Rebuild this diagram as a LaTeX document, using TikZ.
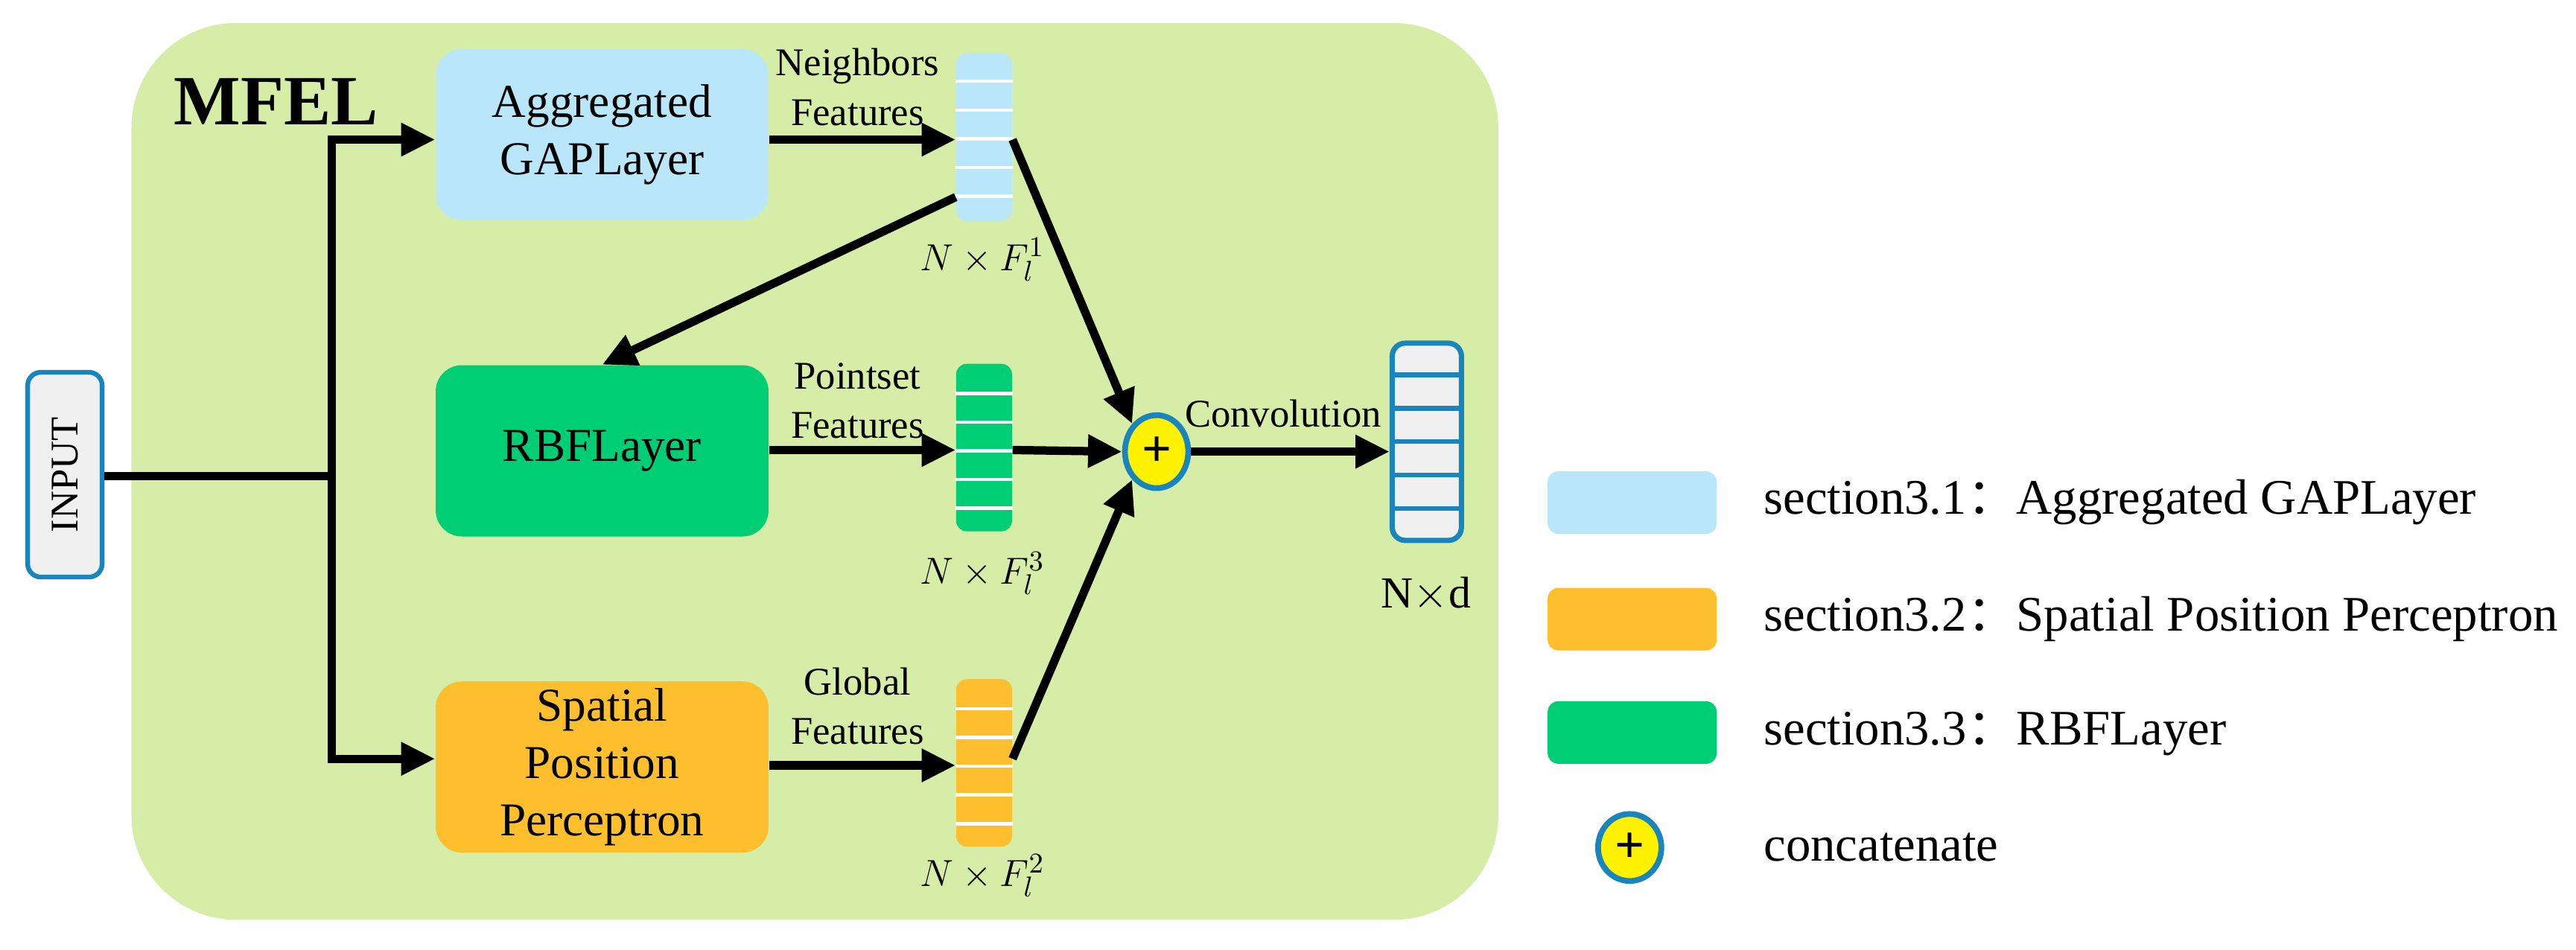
\documentclass[tikz,border=0pt]{standalone}
\usepackage{fontspec}
\setmainfont{Liberation Serif}
\newfontfamily\legsans{Liberation Sans}
\newfontfamily\cjk{Noto Sans CJK SC}
\usetikzlibrary{arrows.meta,positioning,shapes.geometric}
\definecolor{bgGreen}{HTML}{D5EDA6}
\definecolor{aggBlue}{HTML}{BAE6FA}
\definecolor{rbfGreen}{HTML}{00CE74}
\definecolor{sppOrange}{HTML}{FDBF2D}
\definecolor{edgeBlue}{HTML}{1A85BD}
\definecolor{cellGray}{HTML}{F0F0F0}
\tikzset{
  layer/.style={rounded corners=10pt, minimum width=4.47cm, minimum height=2.3cm,
    align=center, font=\fontsize{18}{22}\selectfont, inner sep=0pt},
  feat/.style={rounded corners=4pt, minimum width=0.75cm, minimum height=2.25cm, inner sep=0pt},
  flow/.style={line width=3.2pt, -{Triangle[length=13pt,width=12pt]}},
  lab/.style={font=\fontsize{15}{19}\selectfont, align=center},
  dim/.style={font=\fontsize{15}{19}\selectfont},
  legtxt/.style={anchor=west, font=\fontsize{19}{22}\selectfont},
  legbox/.style={rounded corners=4pt, minimum width=2.27cm, minimum height=0.84cm, inner sep=0pt},
  plusnode/.style={ellipse, draw=edgeBlue, line width=2.2pt, fill=yellow,
    minimum width=0.85cm, minimum height=0.98cm, inner sep=0pt, font=\bfseries\fontsize{20}{20}\selectfont}
}
\begin{document}
\begin{tikzpicture}[x=0.02206cm, y=-0.02206cm]
\useasboundingbox (0,0) rectangle (1568,578);
% background
\fill[bgGreen, rounded corners=40pt] (80,14) rectangle (912,560);
\node[font=\bfseries\fontsize{27}{27}\selectfont] (mfel) at (168,62) {MFEL};
% input
\node[draw=edgeBlue, line width=1.8pt, fill=cellGray, rounded corners=5pt,
  minimum width=1.0cm, minimum height=2.75cm, inner sep=0pt] (input) at (39.5,289) {};
\node[rotate=90, font=\fontsize{15}{15}\selectfont] at (input) {INPUT};
% layers
\node[layer, fill=aggBlue] (agg) at (366.5,82) {Aggregated\\GAPLayer};
\node[layer, fill=rbfGreen] (rbf) at (366.5,274.5) {RBFLayer};
\node[layer, fill=sppOrange] (spp) at (366.5,467) {Spatial\\Position\\Perceptron};
% feature bars
\node[feat, fill=aggBlue] (f1) at (599,83.5) {};
\node[feat, fill=rbfGreen] (f3) at (599,272.5) {};
\node[feat, fill=sppOrange] (f2) at (599,464.5) {};
\foreach \b/\t in {f1/32, f3/222, f2/414}
  \foreach \k in {1,...,5}
    \draw[white, line width=1.3pt] (\b.west |- 0,\t+\k*17.5) -- (\b.east |- 0,\t+\k*17.5);
% output
\node[draw=edgeBlue, line width=2pt, fill=cellGray, rounded corners=5pt,
  minimum width=0.93cm, minimum height=2.65cm, inner sep=0pt] (out) at (868.5,269) {};
\foreach \k in {1,...,5}
  \draw[edgeBlue, line width=1.8pt] (out.west |- 0,208+\k*20.3) -- (out.east |- 0,208+\k*20.3);
\node[font=\fontsize{17}{17}\selectfont] (nd) at (868,362) {N$\times$d};
% concat
\node[plusnode] (cat) at (704,275) {+};
% connectors
\coordinate (split) at (202,290);
\draw[line width=3.2pt] (input.east |- split) -- (split);
\draw[flow] (202,462) -- (202,85) -- (agg.west |- 0,85);
\draw[flow] (202,290) -- (202,462) -- (spp.west |- 0,462);
\draw[flow] (agg.east |- 0,85) -- (f1.west |- 0,85);
\draw[flow] (rbf.east |- 0,274) -- (f3.west |- 0,274);
\draw[flow] (spp.east |- 0,466) -- (f2.west |- 0,466);
\draw[flow] (f1.west |- 0,120) -- (rbf.north);
\draw[flow] (f1.east |- 0,85) -- (cat.north west);
\draw[flow] (f3.east |- 0,274) -- (cat.west);
\draw[flow] (f2.east |- 0,462) -- (cat.south west);
\draw[flow] (cat.east) -- (out.west |- cat);
% labels
\node[lab] at (522,53) {Neighbors\\Features};
\node[lab] at (522,244) {Pointset\\Features};
\node[lab] at (522,430) {Global\\Features};
\node[lab, anchor=south] at (781,266) {Convolution};
\node[dim] at (598,158) {$N\times F^{1}_{l}$};
\node[dim] at (598,349) {$N\times F^{3}_{l}$};
\node[dim] at (598,533) {$N\times F^{2}_{l}$};
% legend
\node[legbox, fill=aggBlue] (lg1) at (993.5,306) {};
\node[legbox, fill=sppOrange] (lg2) at (993.5,377) {};
\node[legbox, fill=rbfGreen] (lg3) at (993.5,446) {};
\node[plusnode, minimum width=0.85cm, minimum height=0.9cm] (lg4) at (992,516) {+};
\node[legtxt] at (1068,306) {section3.1{\cjk ：}Aggregated GAPLayer};
\node[legtxt] at (1068,377) {section3.2{\cjk ：}Spatial Position Perceptron};
\node[legtxt] at (1068,447) {section3.3{\cjk ：}RBFLayer};
\node[legtxt] at (1068,516) {concatenate};
\end{tikzpicture}
\end{document}
